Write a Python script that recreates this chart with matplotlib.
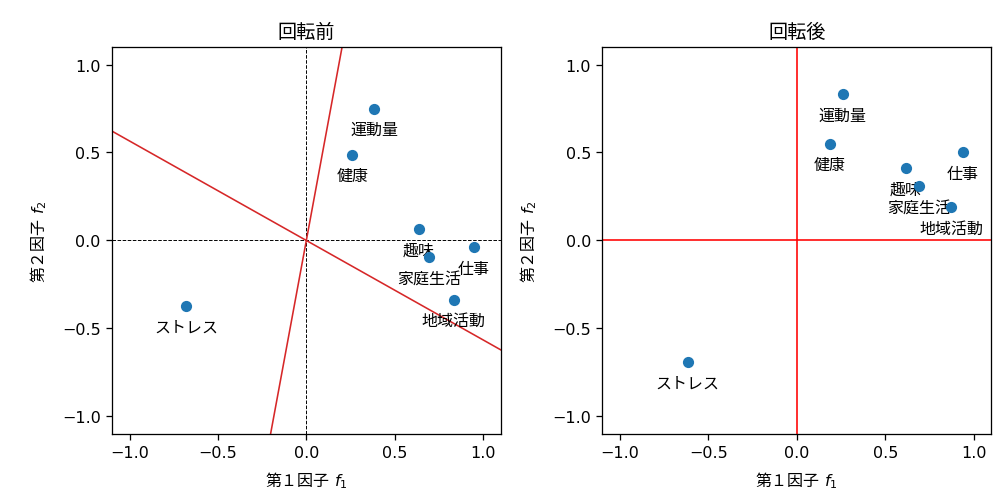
import matplotlib
matplotlib.use("Agg")
import matplotlib.pyplot as plt
import numpy as np

plt.rcParams['font.family'] = ['DejaVu Sans', 'Noto Sans CJK JP']
plt.rcParams['mathtext.fontset'] = 'custom'
plt.rcParams['mathtext.rm'] = 'Noto Sans CJK JP'
plt.rcParams['mathtext.it'] = 'DejaVu Sans:italic'
plt.rcParams['mathtext.sf'] = 'DejaVu Sans'

names = ["運動量", "健康", "趣味", "家庭生活", "仕事", "地域活動", "ストレス"]

# loadings before rotation
f1_before = [0.383, 0.260, 0.637, 0.694, 0.949, 0.835, -0.679]
f2_before = [0.749, 0.488, 0.068, -0.094, -0.037, -0.336, -0.370]

# loadings after rotation
f1_after = [0.260, 0.185, 0.615, 0.690, 0.939, 0.873, -0.617]
f2_after = [0.834, 0.550, 0.410, 0.310, 0.501, 0.189, -0.690]

# directions of the rotated factor axes, seen in the original space
rot_axes = [(1.0, -0.565), (0.184, 1.0)]

label_shift = 0.12
lim = (-1.1, 1.1)

fig = plt.figure(figsize=(1006 / 115, 504 / 115), dpi=115)
ax1 = fig.add_axes([0.1113, 0.1369, 0.3864, 0.768])
ax2 = fig.add_axes([0.5987, 0.1369, 0.3867, 0.768])

# before rotation
ax1.axhline(0, color="k", ls="--", lw=0.6)
ax1.axvline(0, color="k", ls="--", lw=0.6)
for vx, vy in rot_axes:
    ax1.axline((0, 0), (vx, vy), color="tab:red", lw=1)
ax1.scatter(f1_before, f2_before, zorder=4)
for n, x, y in zip(names, f1_before, f2_before):
    ax1.text(x, y - label_shift, n, ha="center", va="center", zorder=3)
ax1.set_title("回転前")

# after rotation
ax2.axhline(0, color="red", lw=1)
ax2.axvline(0, color="red", lw=1)
ax2.scatter(f1_after, f2_after, zorder=4)
for n, x, y in zip(names, f1_after, f2_after):
    ax2.text(x, y - label_shift, n, ha="center", va="center", zorder=3)
ax2.set_title("回転後")

for ax in (ax1, ax2):
    ax.set_xlim(lim)
    ax.set_ylim(lim)
    ax.set_xticks([-1.0, -0.5, 0.0, 0.5, 1.0])
    ax.set_yticks([-1.0, -0.5, 0.0, 0.5, 1.0])
    ax.set_xlabel(r"$\mathrm{第１因子}\ f_\mathsf{1}$", labelpad=6)
    ax.set_ylabel(r"$\mathrm{第２因子}\ f_\mathsf{2}$", labelpad=8)

fig.savefig("out.png", dpi=115)
